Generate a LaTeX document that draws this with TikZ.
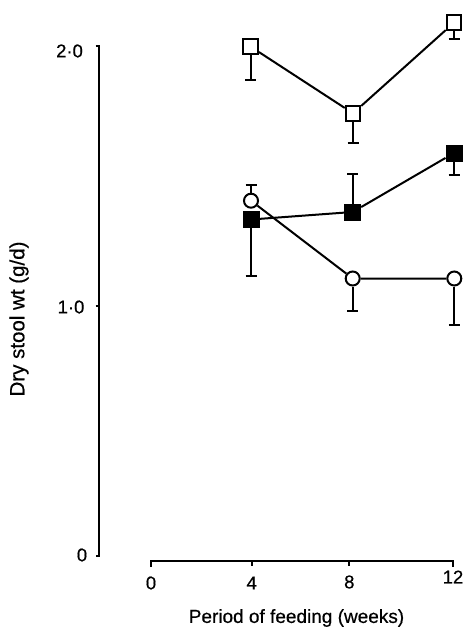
\documentclass[tikz,border=0pt]{standalone}
\usepackage{fontspec}
\setmainfont{Liberation Sans}[FakeBold=0.5]
\begin{document}
\begin{tikzpicture}[x=1pt,y=-1pt,
  ln/.style={line width=2pt},
  osq/.style={draw,line width=2pt,fill=white,minimum size=14.5pt,inner sep=0pt},
  fsq/.style={draw,line width=2pt,fill=black,minimum size=15pt,inner sep=0pt},
  ocirc/.style={circle,draw,line width=2pt,fill=white,minimum size=14pt,inner sep=0pt},
  ticklab/.style={font=\fontsize{18.5}{20}\selectfont,inner sep=0pt},
  axlab/.style={font=\fontsize{19}{22}\selectfont,inner sep=0pt}]
\useasboundingbox (0,0) rectangle (463,627);
% axes
\coordinate (ytop) at (99,46);
\coordinate (ybot) at (99,556);
\draw[ln] (95.5,46) -- (ytop) -- (ybot) -- (96,556);
\draw[ln] (95.5,306) -- (99,306);
\coordinate (xl) at (151,561);
\coordinate (xr) at (453,561);
\draw[ln] (151,567) -- (xl) -- (xr) -- (453,567);
\draw[ln] (251.7,561) -- (251.7,566);
\draw[ln] (349.3,561) -- (349.3,566);
% tick labels
\node[ticklab] (y2) at (69.5,51) {2·0};
\node[ticklab] (y1) at (71,307) {1·0};
\node[ticklab] (y0) at (82,555) {0};
\node[ticklab] (x0) at (151,583) {0};
\node[ticklab] (x4) at (251.7,583) {4};
\node[ticklab] (x8) at (349.3,582) {8};
\node[ticklab] (x12) at (453,577) {12};
\node[axlab,rotate=90,font=\fontsize{20.5}{22}\selectfont] (ylab) at (19,319) {Dry stool wt (g/d)};
\node[axlab] (xlab) at (296.5,618) {Period of feeding (weeks)};
% markers
\node[osq] (a4) at (250.7,46.7) {};
\node[osq] (a8) at (353,113.3) {};
\node[osq] (a12) at (454,22.7) {};
\node[fsq] (b4) at (251,219.5) {};
\node[fsq] (b8) at (352.7,212) {};
\node[fsq] (b12) at (454,153) {};
\node[ocirc] (c4) at (251,200.7) {};
\node[ocirc] (c8) at (352.7,278.5) {};
\node[ocirc] (c12) at (454.3,278.5) {};
% connecting lines
\draw[ln] (a4) -- (a8) -- (a12);
\draw[ln] (b4) -- (b8) -- (b12);
\draw[ln] (c4) -- (c8) -- (c12);
% error bars
\coordinate (ea4) at (250.7,80);
\coordinate (ea8) at (353,143.3);
\coordinate (ea12) at (454,39);
\coordinate (eb4) at (251,276);
\coordinate (eb8) at (352.7,173.5);
\coordinate (eb12) at (454,175);
\coordinate (ec4) at (251,185);
\coordinate (ec8) at (352.7,310.5);
\coordinate (ec12) at (454.3,325);
\foreach \m/\e in {a4/ea4,a8/ea8,a12/ea12,b4/eb4,b8/eb8,b12/eb12,c4/ec4,c8/ec8,c12/ec12}{
  \draw[ln] (\m) -- (\e);
  \draw[ln] ([xshift=-5.5pt]\e) -- ([xshift=5.5pt]\e);
}
\end{tikzpicture}
\end{document}
